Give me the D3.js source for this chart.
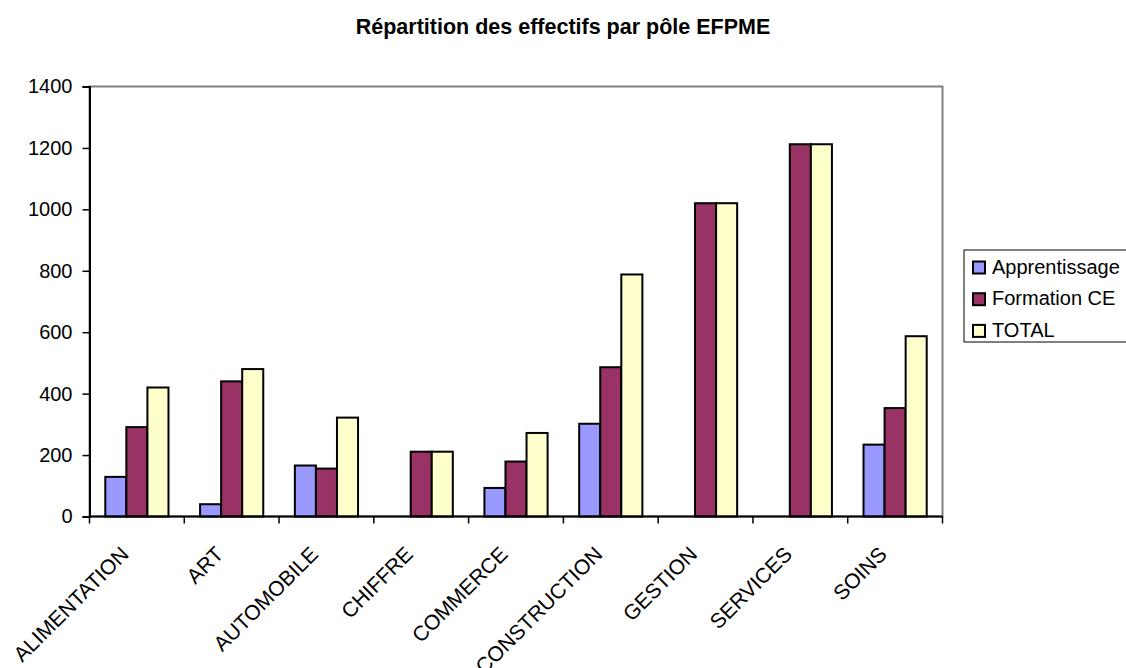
<!DOCTYPE html>
<html>
<head>
<meta charset="utf-8">
<script src="https://cdn.jsdelivr.net/npm/d3@7"></script>
<style>
  html, body { margin: 0; padding: 0; background: #fff; }
  svg { display: block; font-family: Arial, "Liberation Sans", sans-serif; }
</style>
</head>
<body>
<svg id="chart" width="1126" height="668"></svg>
<script>
// Pôles and headcounts per training type
const categories = ["ALIMENTATION", "ART", "AUTOMOBILE", "CHIFFRE", "COMMERCE", "CONSTRUCTION", "GESTION", "SERVICES", "SOINS"];
const apprentissage = [129, 40, 166, 0, 93, 302, 0, 0, 234];
const formationCE = [291, 440, 156, 211, 179, 486, 1020, 1212, 353];
const total = [420, 480, 322, 211, 272, 788, 1020, 1212, 587];
const seriesNames = ["Apprentissage", "Formation CE", "TOTAL"];
const seriesColors = ["#9999FF", "#993366", "#FFFFCC"];
const yTicks = [0, 200, 400, 600, 800, 1000, 1200, 1400];

const series = [apprentissage, formationCE, total];

const svg = d3.select("#chart");
const plot = { left: 89.5, right: 942.5, top: 86.5, bottom: 516.5 };

const x = d3.scaleBand().domain(categories).range([plot.left, plot.right]).paddingInner(0).paddingOuter(0);
const y = d3.scaleLinear().domain([0, 1400]).range([plot.bottom, plot.top]);

// gap width of 150% between clusters
const barW = x.bandwidth() / 4.5;
const groupOffset = barW * 0.75;

// Title
svg.append("text")
  .attr("x", 563).attr("y", 34)
  .attr("text-anchor", "middle")
  .style("font-weight", "bold").style("font-size", "21.5px")
  .text("Répartition des effectifs par pôle EFPME");

// Plot area frame
svg.append("rect")
  .attr("x", plot.left).attr("y", plot.top)
  .attr("width", plot.right - plot.left).attr("height", plot.bottom - plot.top)
  .attr("fill", "#fff").attr("stroke", "#808080").attr("stroke-width", 2);

// Bars
series.forEach((vals, si) => {
  const data = categories.map((c, i) => ({ c, v: vals[i] })).filter(d => d.v > 0);
  svg.append("g").selectAll("rect").data(data).join("rect")
    .attr("x", d => x(d.c) + groupOffset + si * barW)
    .attr("y", d => y(d.v))
    .attr("width", barW)
    .attr("height", d => y(0) - y(d.v))
    .attr("fill", seriesColors[si])
    .attr("stroke", "#000").attr("stroke-width", 2);
});

// Y axis
const yAxis = d3.axisLeft(y).tickValues(yTicks).tickSize(7).tickPadding(10).tickFormat(d3.format("d"));
const gy = svg.append("g").attr("transform", `translate(${plot.left},0)`).call(yAxis);
gy.select(".domain").attr("stroke", "#000").attr("stroke-width", 2);
gy.selectAll(".tick line").attr("stroke", "#000").attr("stroke-width", 1.5);
gy.selectAll(".tick text").style("font-size", "20px").attr("fill", "#000");

// X axis: ticks at cluster boundaries
const boundaries = d3.range(categories.length + 1).map(i => plot.left + i * x.bandwidth());
const gx = svg.append("g");
gx.append("line")
  .attr("x1", plot.left).attr("x2", plot.right)
  .attr("y1", y(0)).attr("y2", y(0))
  .attr("stroke", "#000").attr("stroke-width", 2);
gx.selectAll("line.tick").data(boundaries).join("line")
  .attr("class", "tick")
  .attr("x1", d => d).attr("x2", d => d)
  .attr("y1", y(0)).attr("y2", y(0) + 7)
  .attr("stroke", "#000").attr("stroke-width", 1.5);
gx.selectAll("text").data(categories).join("text")
  .attr("transform", d => `translate(${x(d) + x.bandwidth() / 2 - 7},${y(0) + 39}) rotate(-45)`)
  .attr("text-anchor", "end")
  .style("font-size", "21px")
  .text(d => d);

// Legend
const lg = svg.append("g");
lg.append("rect")
  .attr("x", 964).attr("y", 250).attr("width", 200).attr("height", 92)
  .attr("fill", "#fff").attr("stroke", "#000").attr("stroke-width", 1);
seriesNames.forEach((name, i) => {
  const ry = 261.5 + i * 31.7;
  lg.append("rect")
    .attr("x", 973).attr("y", ry).attr("width", 12).attr("height", 12)
    .attr("fill", seriesColors[i]).attr("stroke", "#000").attr("stroke-width", 2);
  lg.append("text")
    .attr("x", 992).attr("y", ry + 12)
    .style("font-size", "20px")
    .text(name);
});
</script>
</body>
</html>
